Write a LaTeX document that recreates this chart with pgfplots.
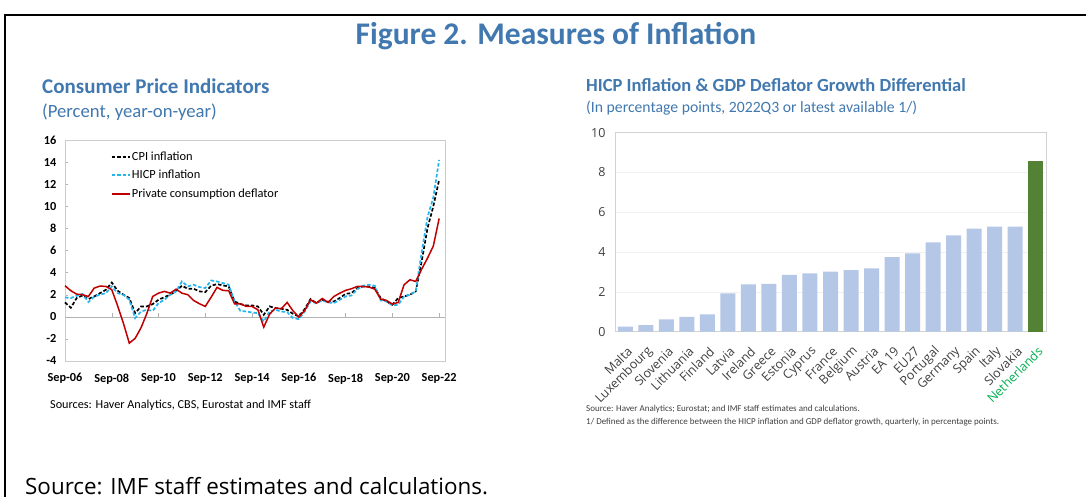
\documentclass[border=0pt]{standalone}
\usepackage{pgfplots}
\pgfplotsset{compat=1.18}
\usepackage{pgfplotstable}
\usepackage{fontspec}
\setmainfont{Carlito}
\newfontfamily\osans{Open Sans}
\definecolor{tblue}{HTML}{4178AF}
\definecolor{barblue}{HTML}{B4C7E7}
\definecolor{bargreen}{HTML}{548235}
\definecolor{labgreen}{HTML}{00B050}
\definecolor{hicp}{HTML}{22B5EF}
\definecolor{pcd}{HTML}{C00000}
\definecolor{dgray}{HTML}{404040}

\pgfplotstableread{
t cpi hicp pcd
0 1.3 1.75 2.81
1 0.82 1.7 2.36
2 1.7 1.9 2.05
3 1.93 2.08 2.0
4 1.6 1.33 1.84
5 1.84 1.84 2.6
6 2.14 2.0 2.78
7 2.45 2.14 2.75
8 3.1 2.75 2.45
9 2.36 2.14 1.0
10 2.0 2.0 -0.6
11 1.7 1.54 -2.39
12 0.33 -0.12 -1.95
13 0.94 0.48 -1.0
14 0.94 0.63 0.3
15 1.15 0.54 1.84
16 1.54 1.24 2.14
17 1.78 1.54 2.3
18 2.0 2.0 2.14
19 2.33 2.3 2.5
20 2.81 3.2 2.14
21 2.54 2.75 2.0
22 2.54 2.9 1.48
23 2.3 2.69 1.18
24 2.24 2.6 0.94
25 2.81 3.29 1.78
26 2.96 3.2 2.66
27 2.84 3.05 2.39
28 2.75 2.9 2.36
29 1.39 1.39 1.18
30 1.15 0.54 1.18
31 1.03 0.48 0.94
32 1.03 0.39 0.94
33 0.94 0.33 0.63
34 0.18 -0.42 -0.94
35 0.94 0.48 0.24
36 0.79 0.63 0.79
37 0.73 0.48 0.73
38 0.63 0.42 1.3
39 0.27 -0.12 0.54
40 0.03 -0.21 -0.03
41 0.69 0.48 0.57
42 1.6 1.39 1.54
43 1.24 1.24 1.24
44 1.54 1.48 1.66
45 1.36 1.3 1.3
46 1.39 1.24 1.84
47 1.7 1.54 2.14
48 2.08 1.84 2.39
49 2.14 1.93 2.54
50 2.6 2.5 2.75
51 2.75 2.81 2.75
52 2.75 2.9 2.69
53 2.6 2.81 2.5
54 1.7 1.48 1.6
55 1.39 1.39 1.48
56 1.09 1.03 1.15
57 1.7 1.09 1.3
58 1.84 1.84 2.9
59 2.0 2.0 3.35
60 2.3 2.3 3.2
61 5.0 5.8 4.3
62 8.0 9.0 5.3
63 10.0 10.8 6.4
64 12.4 14.2 8.9
}\cpitable

\pgfplotstableread{
x val
0 0.25
1 0.33
2 0.62
3 0.75
4 0.87
5 1.93
6 2.38
7 2.40
8 2.85
9 2.93
10 3.02
11 3.10
12 3.18
13 3.75
14 3.94
15 4.49
16 4.84
17 5.18
18 5.28
19 5.28
}\bartable

\pgfplotstableread{
x val
20 8.59
}\nltable

\begin{document}
\begin{tikzpicture}[x=1pt,y=1pt]
\useasboundingbox (0,0) rectangle (1086,497);
\fill[white] (0,0) rectangle (1086,497);
\draw[line width=2pt] (5,-5) -- (5,482) -- (1090,482);

\node[anchor=base, inner sep=0pt, text=tblue, font=\fontsize{31.5}{34}\selectfont\bfseries] at (556,452) {Figure 2. Measures of Inflation};

\node[anchor=base west, inner sep=0pt, text=tblue, font=\fontsize{21}{23}\selectfont\bfseries] at (42,403) {Consumer Price Indicators};
\node[anchor=base west, inner sep=0pt, text=tblue, font=\fontsize{18.7}{21}\selectfont] at (42,379) {(Percent, year-on-year)};
\node[anchor=base west, inner sep=0pt, text=tblue, font=\fontsize{18.5}{20}\selectfont\bfseries] at (586,405) {HICP Inflation \& GDP Deflator Growth Differential};
\node[anchor=base west, inner sep=0pt, text=tblue, font=\fontsize{15.7}{18}\selectfont] at (586,384) {(In percentage points, 2022Q3 or latest available 1/)};

\node[anchor=base west, inner sep=0pt, font=\fontsize{12.2}{14}\selectfont] at (50,88) {Sources: Haver Analytics, CBS, Eurostat and IMF staff};
\node[anchor=base west, inner sep=0pt, text=dgray, font=\fontsize{9}{10}\selectfont] at (586,85) {Source: Haver Analytics; Eurostat; and IMF staff estimates and calculations.};
\node[anchor=base west, inner sep=0pt, text=dgray, font=\fontsize{9}{10}\selectfont] at (586,72.5) {1/ Defined as the difference between the HICP inflation and GDP deflator growth, quarterly, in percentage points.};
\node[anchor=base west, inner sep=0pt, font=\osans\fontsize{22.4}{25}\selectfont] at (25,2) {Source: IMF staff estimates and calculations.};

% Left chart
\begin{axis}[at={(65pt,136pt)}, anchor=south west, scale only axis,
  width=380pt, height=221pt,
  xmin=0, xmax=65, ymin=-4, ymax=16,
  ytick={-4,-2,...,16},
  xtick={0,8,...,64},
  xticklabels={Sep-06,Sep-08,Sep-10,Sep-12,Sep-14,Sep-16,Sep-18,Sep-20,Sep-22},
  axis line style={draw=gray!40},
  xtick style={draw=none},
  ytick style={draw=gray!60},
  ytick pos=left, tick align=inside, major tick length=3pt,
  tick label style={font=\fontsize{12.3}{13}\selectfont\bfseries},
  /pgf/number format/assume math mode=true,
  yticklabel style={xshift=-5pt},
  xticklabel style={yshift=-9pt},
  legend style={at={(rel axis cs:0.12,0.955)}, anchor=north west, draw=none, fill=none,
    inner sep=0pt, row sep=5.5pt, font=\fontsize{12.4}{13}\selectfont,
    nodes={inner sep=1.5pt}},
  legend cell align=left,
  legend image code/.code={\draw[#1] (0pt,0pt) -- (18pt,0pt);},
  clip=false,
]
\draw[gray!60] (axis cs:0,0) -- (axis cs:65,0);
\pgfplotsinvokeforeach{8,16,...,64}{\draw[gray!60] (axis cs:#1,0) -- (axis cs:#1,0.38);}
\addplot[black, line width=1.7pt, dash pattern=on 3.5pt off 2pt] table[x=t,y=cpi] {\cpitable};
\addlegendentry{CPI inflation}
\addplot[hicp, line width=1.7pt, dash pattern=on 3.5pt off 2pt] table[x=t,y=hicp] {\cpitable};
\addlegendentry{HICP inflation}
\addplot[pcd, line width=1.5pt] table[x=t,y=pcd] {\cpitable};
\addlegendentry{Private consumption deflator}
\end{axis}

% Right chart
\begin{axis}[at={(615pt,165.3pt)}, anchor=south west, scale only axis,
  width=431pt, height=199pt,
  xmin=-0.5, xmax=20.5, ymin=0, ymax=10,
  ytick={0,2,...,10},
  xtick={0,...,20},
  xticklabels={Malta,Luxembourg,Slovenia,Lithuania,Finland,Latvia,Ireland,Greece,Estonia,Cyprus,France,Belgium,Austria,EA 19,EU27,Portugal,Germany,Spain,Italy,Slovakia,{\color{labgreen}Netherlands}},
  axis line style={draw=gray!35},
  tick style={draw=none},
  ymajorgrids, grid style={draw=gray!12},
  tick label style={font=\osans\fontsize{12.5}{13}\selectfont, text=dgray},
  /pgf/number format/assume math mode=true,
  yticklabel style={xshift=-6pt},
  xticklabel style={xshift=7pt, yshift=-11pt, rotate=45, anchor=east},
  ybar, bar width=15pt, bar shift=0pt,
]
\addplot[fill=barblue, draw=none] table[x=x,y=val] {\bartable};
\addplot[fill=bargreen, draw=none] table[x=x,y=val] {\nltable};
\end{axis}
\end{tikzpicture}
\end{document}
